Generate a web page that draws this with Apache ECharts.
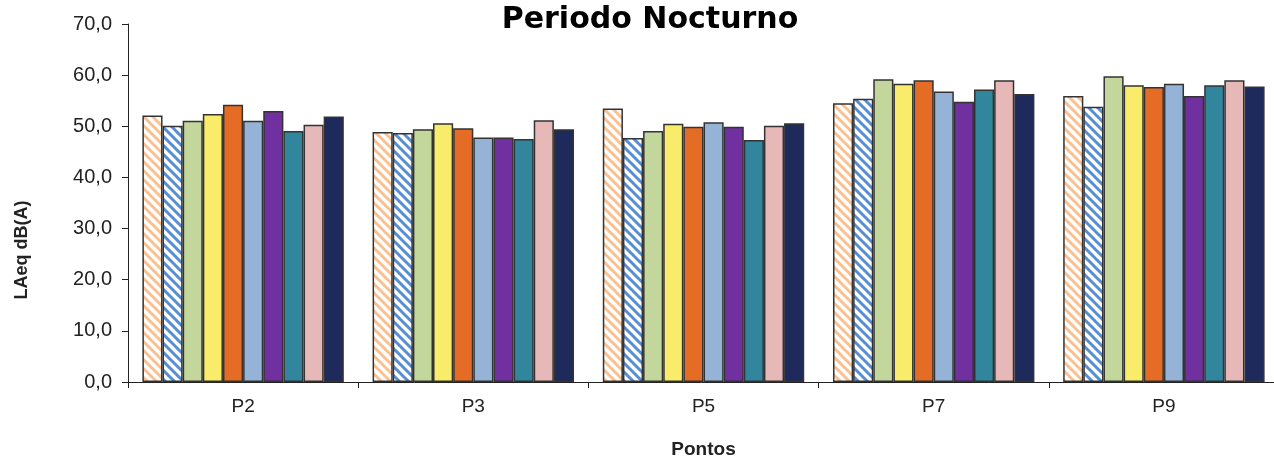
<!DOCTYPE html>
<html>
<head>
<meta charset="utf-8">
<script src="https://cdn.jsdelivr.net/npm/echarts@6/dist/echarts.min.js"></script>
<style>html,body{margin:0;padding:0;background:#fff}#c{width:1274px;height:460px}</style>
</head>
<body>
<div id="c"></div>
<script>
var categories = ['P2', 'P3', 'P5', 'P7', 'P9'];
var yTicks = [0, 10, 20, 30, 40, 50, 60, 70];
var s1 = [52.1, 48.9, 53.5, 54.5, 55.9];
var s2 = [50.1, 48.7, 47.7, 55.4, 53.8];
var s3 = [51.1, 49.4, 49.1, 59.2, 59.8];
var s4 = [52.4, 50.6, 50.5, 58.3, 58.0];
var s5 = [54.2, 49.6, 49.9, 59.0, 57.7];
var s6 = [51.1, 47.8, 50.8, 56.8, 58.3];
var s7 = [53.0, 47.8, 49.9, 54.8, 55.9];
var s8 = [49.1, 47.5, 47.3, 57.2, 58.0];
var s9 = [50.3, 51.2, 50.1, 59.0, 59.0];
var s10 = [51.9, 49.4, 50.6, 56.3, 57.8];
var seriesData = [s1, s2, s3, s4, s5, s6, s7, s8, s9, s10];

function hatch(color) {
  var n = 9;
  var cv = document.createElement('canvas');
  cv.width = n; cv.height = n;
  var ctx = cv.getContext('2d');
  ctx.fillStyle = '#fff';
  ctx.fillRect(0, 0, n, n);
  ctx.strokeStyle = color;
  ctx.lineWidth = 3;
  for (var c = -n; c <= n; c += n) {
    ctx.beginPath();
    ctx.moveTo(-1, c - 1);
    ctx.lineTo(n + 1, n + c + 1);
    ctx.stroke();
  }
  return { image: cv, repeat: 'repeat' };
}

var colors = [
  hatch('#FAC090'), hatch('#558ED5'),
  '#C3D69B', '#F9EC6A', '#E46C24', '#95B3D7', '#7030A0', '#31859C', '#E6B9B8', '#1F2A5C'
];

var series = seriesData.map(function (d, i) {
  return {
    type: 'bar',
    name: 'S' + (i + 1),
    data: d,
    barGap: '0%',
    barCategoryGap: '12.5%',
    itemStyle: { color: colors[i], borderColor: '#333', borderWidth: 1.5 }
  };
});

var chart = echarts.init(document.getElementById('c'));
chart.setOption({
  animation: false,
  backgroundColor: '#fff',
  title: {
    text: 'Periodo Nocturno',
    left: 645, top: 0, textAlign: 'center',
    textStyle: { fontFamily: 'DejaVu Sans', fontWeight: 'bold', fontSize: 30, color: '#000' }
  },
  grid: { left: 128, top: 24, width: 1151, height: 358, outerBoundsMode: 'none', containLabel: false },
  xAxis: {
    type: 'category',
    data: categories,
    axisLine: { lineStyle: { color: '#222', width: 1 } },
    axisTick: { show: true, length: 6, lineStyle: { color: '#222' } },
    axisLabel: { fontFamily: 'Liberation Sans', fontSize: 19, color: '#222', margin: 15 },
    name: 'Pontos',
    nameLocation: 'middle',
    nameGap: 58,
    nameTextStyle: { fontFamily: 'Liberation Sans', fontWeight: 'bold', fontSize: 19, color: '#222' }
  },
  yAxis: {
    type: 'value',
    min: yTicks[0], max: yTicks[yTicks.length - 1], interval: 10,
    splitLine: { show: false },
    axisLine: { show: true, lineStyle: { color: '#222', width: 1 } },
    axisTick: { show: true, length: 6, lineStyle: { color: '#222' } },
    axisLabel: {
      fontFamily: 'Liberation Sans', fontSize: 20, color: '#222', margin: 16,
      formatter: function (v) { return v.toFixed(1).replace('.', ','); }
    }
  },
  graphic: [{
    type: 'text',
    x: 22, y: 250, rotation: Math.PI / 2,
    style: {
      text: 'LAeq dB(A)', fill: '#222',
      font: 'bold 18px "Liberation Sans"',
      textAlign: 'center', textVerticalAlign: 'middle'
    }
  }],
  series: series
});
</script>
</body>
</html>
